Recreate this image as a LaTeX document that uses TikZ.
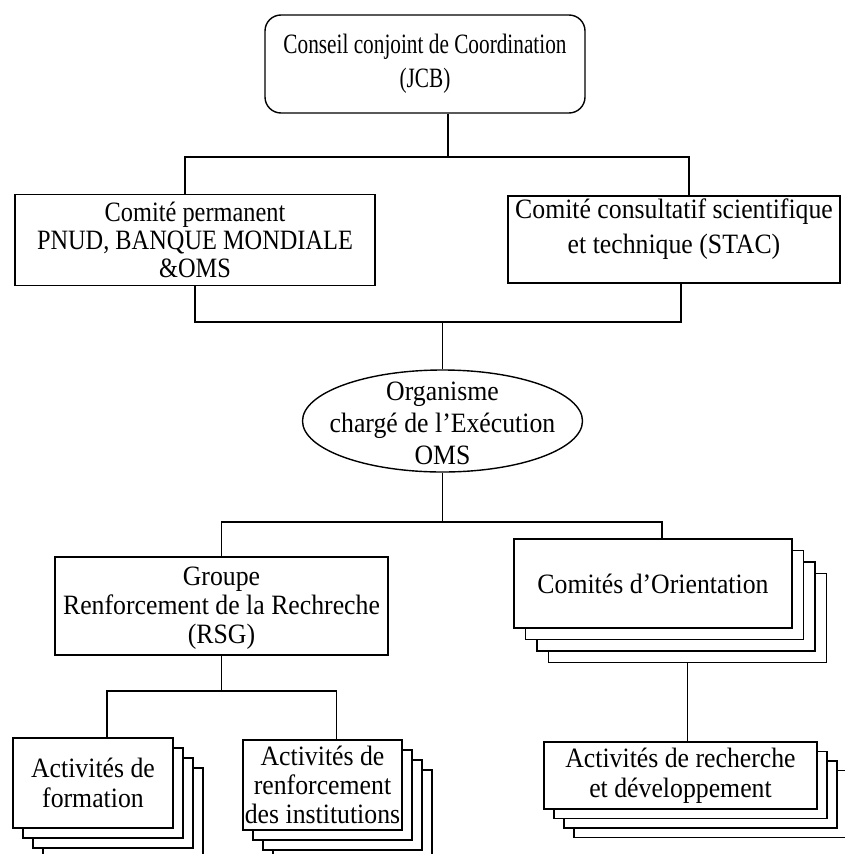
\documentclass[tikz,border=0pt]{standalone}
\usepackage{fontspec}
\setmainfont{Liberation Serif}[FakeStretch=0.92]
\newfontfamily\jcbfont{Liberation Serif}[FakeStretch=0.76]
\newfontfamily\permfont{Liberation Serif}[FakeStretch=0.87]
\usetikzlibrary{shapes.geometric,calc}
\begin{document}
\begin{tikzpicture}[x=1pt,y=-1pt,line width=1.4pt,
  txt/.style={align=center,inner sep=0pt,font=\fontsize{28}{30}\selectfont},
  box/.style={txt,draw,fill=white,rectangle},
  backbox/.style={draw,fill=white,rectangle,inner sep=0pt}]
\useasboundingbox (0,0) rectangle (845,854);
\fill[white] (0,0) rectangle (845,854);
\clip (0,0) rectangle (845,854);

% top
\node[box,rounded corners=16pt,minimum width=320pt,minimum height=98pt,
  font=\jcbfont\fontsize{28}{34}\selectfont] (jcb) at (425,64) {Conseil conjoint de Coordination\\(JCB)};
\node[box,minimum width=360pt,minimum height=91pt,font=\permfont\fontsize{28}{28}\selectfont] (perm) at (195,240)
  {Comité permanent\\PNUD, BANQUE MONDIALE\\\&OMS};
\node[draw,fill=white,rectangle,inner sep=0pt,minimum width=332pt,minimum height=87pt] (stac) at (674,239.5) {};
\node[txt,font=\fontsize{28}{35}\selectfont] (stactext) at ($(stac)+(0,-10)$)
  {Comité consultatif scientifique\\et technique (STAC)};

\node[draw,ellipse,minimum width=280pt,minimum height=102pt,inner sep=0pt] (exec) at (442.5,421) {};
\node[txt,font=\fontsize{28}{32}\selectfont] (exectext) at ($(exec)+(0,2)$) {Organisme\\chargé de l'Exécution\\OMS};

% RSG
\node[draw,fill=white,rectangle,inner sep=0pt,minimum width=333pt,minimum height=98pt] (rsg) at (221.5,606) {};
\node[txt,font=\fontsize{28}{29}\selectfont] (rsgtext) at ($(rsg)+(0,2)$)
  {Groupe\\Renforcement de la Rechreche\\(RSG)};

% Comites d'Orientation stack
\foreach \i in {3,2,1}
  \node[backbox,minimum width=278pt,minimum height=89pt] (orient\i) at ({653+\i*11.5},{583.5+\i*11.5}) {};
\node[box,minimum width=278pt,minimum height=89pt] (orient) at (653,583.5) {Comités d'Orientation};

% Activites de formation stack
\foreach \i in {3,2,1}
  \node[backbox,minimum width=160pt,minimum height=90pt] (form\i) at ({93+\i*10},{783+\i*10}) {};
\node[box,minimum width=160pt,minimum height=90pt] (form) at (93,783) {Activités de\\formation};

% Activites de renforcement stack
\foreach \i in {3,2,1}
  \node[backbox,minimum width=159pt,minimum height=90pt] (inst\i) at ({322.5+\i*10},{785+\i*10}) {};
\node[box,minimum width=159pt,minimum height=90pt,font=\fontsize{28}{29}\selectfont] (inst) at (322.5,785)
  {Activités de\\renforcement\\des institutions};

% Activites de recherche stack
\foreach \i in {3,2,1}
  \node[backbox,minimum width=273pt,minimum height=67pt] (rd\i) at ({680.5+\i*10},{775.5+\i*9.5}) {};
\node[box,minimum width=273pt,minimum height=67pt] (rd) at (680.5,775.5)
  {Activités de recherche\\et développement};

% connectors
\coordinate (bus1) at (0,157);
\coordinate (bus2) at (0,322);
\coordinate (bus3) at (0,522);
\coordinate (bus4) at (0,691);
\coordinate (jcbS) at ($(jcb.south)+(23,0)$);
\coordinate (permN) at ($(perm.north)+(-10,0)$);
\coordinate (stacN) at ($(stac.north)+(15,0)$);
\coordinate (stacS) at ($(stac.south)+(7,0)$);
\coordinate (orientN) at ($(orient.north)+(9,0)$);
\coordinate (formN) at ($(form.north)+(14,0)$);
\coordinate (instN) at ($(inst.north)+(14,0)$);

\draw (jcbS) -- (jcbS |- bus1);
\draw (permN) |- (bus1 -| stacN) -- (stacN);
\draw (perm.south) |- (bus2 -| stacS) -- (stacS);
\draw (exec.north) -- (exec.north |- bus2);
\draw (exec.south) -- (exec.south |- bus3);
\draw (rsg.north) |- (bus3 -| orientN) -- (orientN);
\draw (rsg.south) -- (rsg.south |- bus4);
\draw (formN) |- (bus4 -| instN) -- (instN);
\draw (orient3.south) -- (orient3.south |- rd.north);
\end{tikzpicture}
\end{document}
